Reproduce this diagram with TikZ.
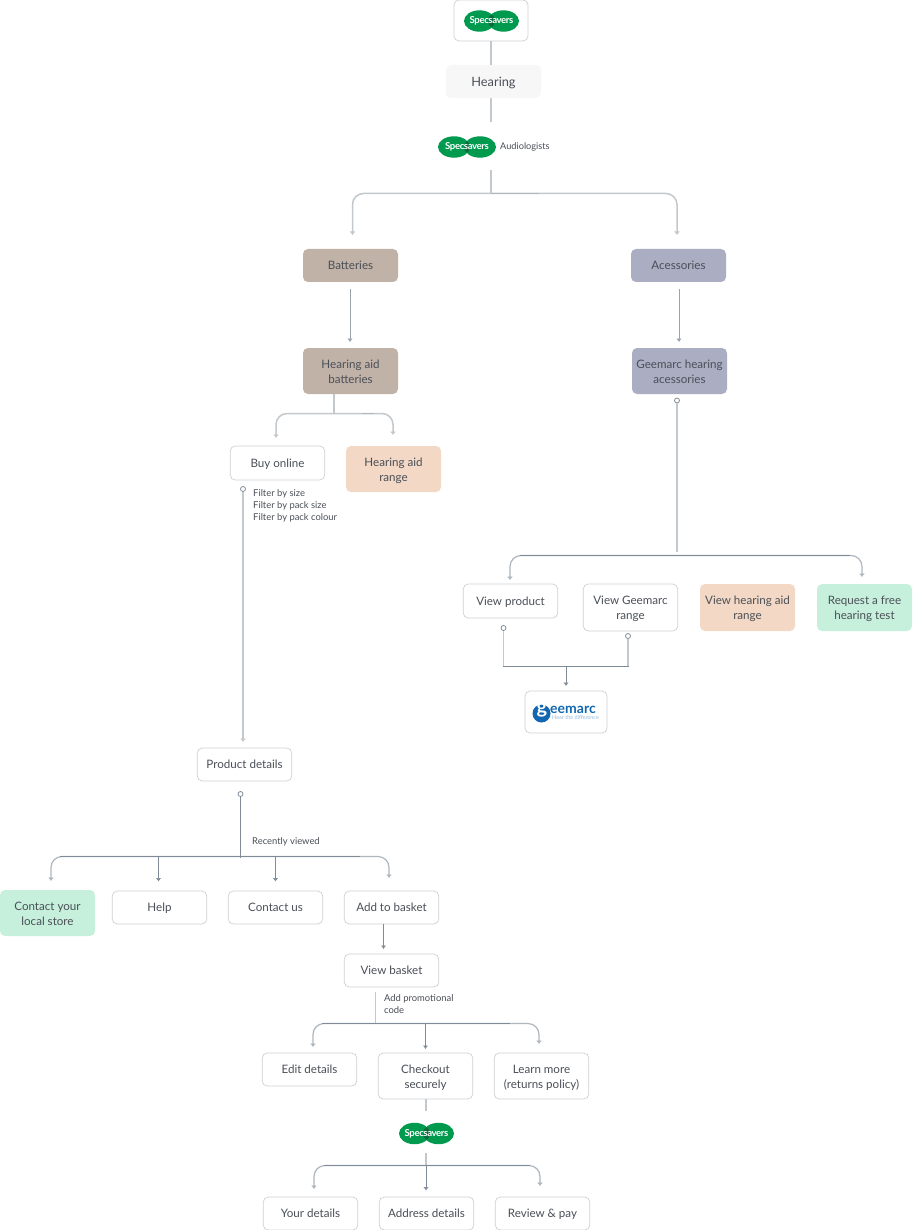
\documentclass[tikz,border=0pt]{standalone}
\usepackage{fontspec}
\setmainfont{Lato}
\usetikzlibrary{arrows.meta,calc}
\definecolor{ink}{HTML}{4A4F57}
\definecolor{conn}{HTML}{7F8C98}
\definecolor{soft}{HTML}{AEB6BE}
\definecolor{stub}{HTML}{C3C8CC}
\definecolor{edge}{HTML}{CDD0D2}
\definecolor{brown}{HTML}{C1B2A8}
\definecolor{slate}{HTML}{ABADC2}
\definecolor{peach}{HTML}{F2D8C5}
\definecolor{mint}{HTML}{C6F0DC}
\definecolor{pale}{HTML}{F7F7F7}
\definecolor{sgreen}{HTML}{009A4E}
\definecolor{sdark}{HTML}{0A6B3C}
\definecolor{gblue}{HTML}{1268B0}
\tikzset{
  x=1pt,y=-1pt,
  card/.style={rectangle,rounded corners=5pt,minimum width=95pt,align=center,text=ink,font=\fontsize{11.6}{15}\selectfont,inner sep=0pt,execute at begin node=\rule{0pt}{10.8pt},execute at end node=\vphantom{g}},
  plain/.style={card,draw=edge,line width=.7pt,fill=white,minimum width=94.5pt},
  sbrown/.style={card,fill=brown},
  sslate/.style={card,fill=slate},
  speach/.style={card,fill=peach},
  smint/.style={card,fill=mint},
  spale/.style={card,fill=pale},
  one/.style={minimum height=33pt},
  two/.style={minimum height=46pt,execute at begin node=\rule{0pt}{26.5pt}},
  note/.style={text=ink,font=\fontsize{9.4}{11.7}\selectfont,align=left,inner sep=0pt,anchor=north west},
  stubline/.style={stub,line width=1.5pt},
  link/.style={conn,line width=.9pt},
  arrow/.style={link,-{Latex[length=3.5pt,width=5.5pt]}},
  curvy/.style={soft,line width=1.2pt,-{Latex[length=3.5pt,width=6pt]},rounded corners=11pt},
  curvylight/.style={curvy,stub,line width=1.5pt},
  ring/.style={circle,draw=conn,fill=white,line width=.8pt,minimum size=5pt,inner sep=0pt},
}
\newcommand{\logoat}[4]{%
  \fill[sgreen] (#1-#3,#2) ellipse [x radius=#4,y radius=10.7];
  \fill[sgreen] (#1+#3,#2) ellipse [x radius=#4,y radius=10.7];
  \begin{scope}
    \clip (#1-#3,#2) ellipse [x radius=#4,y radius=10.7];
    \fill[sdark] (#1+#3,#2) ellipse [x radius=#4,y radius=10.7];
  \end{scope}
  \node[text=white,inner sep=0pt,font=\fontsize{9.6}{10}\selectfont\bfseries] at (#1,#2) {\addfontfeature{LetterSpace=-4}Specsavers};
}
\begin{document}
\begin{tikzpicture}
\useasboundingbox (0,0) rectangle (913,1230);
\fill[white] (0,0) rectangle (913,1230);

% nodes
\node[plain,minimum width=74pt,minimum height=41pt] (top) at (491,20.5) {};
\node[spale,one] (hearing) at (493.5,81.5) {\raisebox{-.8pt}{\fontsize{12.8}{15}\selectfont Hearing}};
\node[sbrown,one] (batt) at (350.5,265.5) {Batteries};
\node[sslate,one] (acc) at (678.5,265.5) {Acessories};
\node[sbrown,two] (hab) at (350.5,371) {Hearing aid\\batteries};
\node[sslate,two] (geeh) at (679.5,371) {Geemarc hearing\\acessories};
\node[plain,one,minimum height=34pt] (buy) at (277.5,463) {Buy online};
\node[speach,two] (har) at (393.5,469) {Hearing aid\\range};
\node[plain,one,minimum height=34pt] (vp) at (510.5,601) {View product};
\node[plain,two,minimum height=47pt] (vg) at (630.5,607.5) {View Geemarc\\range};
\node[speach,two,minimum height=47pt] (vh) at (747.5,607.5) {View hearing aid\\range};
\node[smint,two,minimum height=47pt] (req) at (864.5,607.5) {Request a free\\hearing test};
\node[plain,minimum width=82pt,minimum height=42pt] (gee) at (566,712) {};
\node[plain,one] (pd) at (244.5,764.5) {Product details};
\node[smint,two] (cs) at (47.5,913) {Contact your\\local store};
\node[plain,one] (help) at (159.5,907.5) {Help};
\node[plain,one] (cu) at (275.5,907.5) {Contact us};
\node[plain,one] (atb) at (391.5,907.5) {Add to basket};
\node[plain,one] (vb) at (391.5,970.5) {View basket};
\node[plain,one] (ed) at (309.5,1069.5) {Edit details};
\node[plain,two] (chk) at (425.5,1076) {Checkout\\securely};
\node[plain,two] (lm) at (541.5,1076) {Learn more\\(returns policy)};
\node[plain,one] (yd) at (310.5,1213.5) {Your details};
\node[plain,one] (ad) at (426.5,1213.5) {Address details};
\node[plain,one] (rp) at (542.5,1213.5) {Review \& pay};

% notes
\node[note] (n1) at (253,489.5) {Filter by size\\Filter by pack size\\Filter by pack colour};
\node[note] (n2) at (252,837.5) {Recently viewed};
\node[note] (n3) at (384,994.5) {Add promotional\\code};
\node[inner sep=0pt,text=ink,font=\fontsize{9.2}{11}\selectfont,anchor=west] (aud) at (500,146.5) {Audiologists};

% logos
\logoat{491.5}{21}{12}{15.5}
\logoat{467}{147}{13}{16}
\logoat{426.5}{1133.5}{12}{15.5}
\coordinate (l2) at (491,146.5);
\coordinate (l3) at (426,1133.5);

% geemarc logo
\fill[gblue] (541.5,713.5) circle (9);
\node[text=white,inner sep=0pt,font=\fontsize{20}{20}\selectfont\bfseries] at (542,710.5) {g};
\node[text=gblue,inner sep=0pt,anchor=west,font=\fontsize{14}{10}\selectfont\bfseries] at (550,709.5) {eemarc};
\node[text=gblue!45,inner sep=0pt,anchor=west,font=\fontsize{5.5}{6}\selectfont] at (552,717.5) {Hear the difference};

% connectors, top spine
\draw[stubline] (top.south -| l2) -- ($(hearing.north -| l2)$);
\draw[stubline] (hearing.south -| l2) -- (491,122);
\coordinate (j1) at (491,193.5);
\draw[stubline] (491,170) -- (j1);
\draw[curvylight] (j1) -| (352.5,235);
\draw[curvylight] (j1) -| (677,235);
\draw[soft,line width=1.5pt] (j1) -- (539,193.5);

% batteries branch
\draw[arrow,conn!80] (350,289) -- (350,342);
\draw[arrow,conn!80] (679,289) -- (679,342);
\coordinate (j2) at (334,413.5);
\draw[stubline] (334,394) -- (j2);
\draw[curvylight] (j2) -| (276,438);
\draw[curvylight] (j2) -| (393,435);
\draw[soft,line width=1.5pt] (362,413.5) -- (374,413.5);

\node[ring] (r1) at (243,489) {};
\coordinate (e1) at (243,742);
\draw[stubline,-{Latex[length=3.5pt,width=6pt]}] (r1) -- (e1);

% accessories branch
\node[ring] (r2) at (677,400.5) {};
\draw[stubline] (r2) -- (677,552);
\coordinate (j3) at (677,555.5);
\draw[curvy] (j3) -| (510,580);
\draw[curvy] (j3) -| (862,577);
\draw[link] (520,555.5) -- (850,555.5);

% geemarc join
\node[ring] (r3) at (503.5,628) {};
\node[ring] (r4) at (628,636) {};
\coordinate (j4) at (566,666.5);
\draw[stubline] (r3) -- (503.5,666);
\draw[stubline] (r4) -- (628,666);
\draw[link] (503,666.5) -- (j4) -- (628.5,666.5);
\draw[arrow] (j4) -- (566,686);

% product details branch
\node[ring] (r5) at (240.5,794) {};
\coordinate (j5) at (240.5,856.5);
\draw[link] (r5) -- (240.5,858);
\draw[curvy] (j5) -| (51,881);
\draw[curvy] (j5) -| (389,878);
\draw[link] (60,856.5) -- (360,856.5);
\draw[arrow] (158.5,856.5) -- (158.5,881.5);
\draw[arrow] (275.5,856.5) -- (275.5,881.5);
\draw[arrow] (383.5,924) -- (383.5,949);

% basket branch
\coordinate (j6) at (375.5,1023.5);
\draw[stubline] (375.5,992) -- (j6);
\draw[curvy] (j6) -| (313,1047);
\draw[curvy] (j6) -| (539,1044);
\draw[link] (322,1023.5) -- (510,1023.5);
\draw[arrow] (425.5,1023.5) -- (425.5,1049);

% checkout branch
\draw[stubline] (426,1099) -- (426,1111);
\coordinate (j7) at (426,1165.5);
\draw[stubline] (426,1153) -- (j7);
\draw[curvy] (j7) -| (314,1189);
\draw[curvy] (j7) -| (540,1186);
\draw[link] (324,1165.5) -- (530,1165.5);
\draw[arrow] (426,1165.5) -- (426,1190.5);
\end{tikzpicture}
\end{document}
